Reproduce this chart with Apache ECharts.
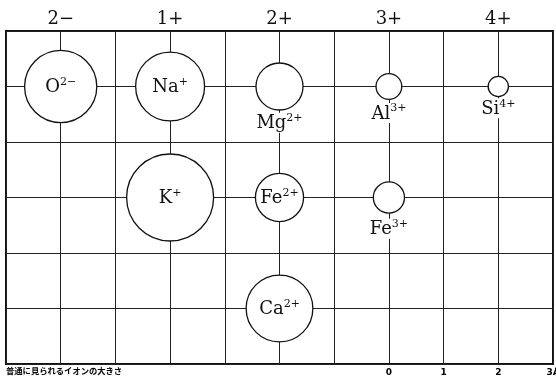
<!DOCTYPE html>
<html>
<head>
<meta charset="utf-8">
<script src="https://cdn.jsdelivr.net/npm/echarts@6/dist/echarts.min.js"></script>
<style>
  html, body { margin: 0; padding: 0; background: #fff; }
  #chart { width: 556px; height: 378px; }
</style>
</head>
<body>
<div id="chart"></div>
<script>
// 列見出し（電荷）
const chargeHeaders = ['2−', '1+', '2+', '3+', '4+'];
const headerColumns = [1, 3, 5, 7, 9];

// イオン：元素記号・電荷・列・行・直径(Å)
const ionSymbols = ['O', 'Na', 'K', 'Mg', 'Fe', 'Ca', 'Al', 'Fe', 'Si'];
const ionCharges = ['2−', '+', '+', '2+', '2+', '2+', '3+', '3+', '4+'];
const ionColumns = [1, 3, 3, 5, 5, 5, 7, 7, 9];
const ionRows = [1, 1, 3, 1, 3, 5, 1, 3, 1];
const ionDiameters = [1.32, 1.26, 1.59, 0.86, 0.88, 1.22, 0.47, 0.57, 0.37];

// 目盛り（Å）
const scaleLabels = ['0', '1', '2', '3Å'];
const scaleColumns = [7, 8, 9, 10];

const caption = '普通に見られるイオンの大きさ';

// ラベルを円の下に置くイオン
const belowLabel = { 'Mg2+': 2, 'Al3+': 3, 'Fe3+': 5, 'Si4+': 1 };

const serif = "'DejaVu Serif', 'Liberation Serif', serif";

const chart = echarts.init(document.getElementById('chart'), null, { renderer: 'canvas' });

const ionData = ionSymbols.map((s, i) => {
  const key = s + ionCharges[i];
  const below = key in belowLabel;
  return {
    value: [ionColumns[i], ionRows[i], ionDiameters[i]],
    name: key,
    label: below
      ? { position: 'bottom', distance: belowLabel[key], backgroundColor: '#fff', padding: [0, 1] }
      : { position: 'inside' }
  };
});

const option = {
  animation: false,
  backgroundColor: '#fff',
  title: {
    text: caption,
    left: 6,
    top: 367,
    padding: 0,
    textStyle: {
      fontSize: 8.3,
      fontWeight: 'bold',
      color: '#000',
      fontFamily: "'Noto Sans CJK JP', sans-serif"
    }
  },
  grid: {
    left: 6,
    right: 3,
    top: 31,
    bottom: 14,
    outerBoundsMode: 'none',
    containLabel: false,
    show: true,
    borderWidth: 2,
    borderColor: '#111',
    backgroundColor: '#fff'
  },
  xAxis: [
    {
      type: 'value',
      min: 0,
      max: 10,
      interval: 1,
      axisLine: { show: false },
      axisTick: { show: false },
      splitLine: { show: true, lineStyle: { color: '#222', width: 1 } },
      axisLabel: {
        margin: 4,
        fontSize: 9,
        fontWeight: 'bold',
        color: '#000',
        fontFamily: "'DejaVu Sans', sans-serif",
        formatter: v => {
          const i = scaleColumns.indexOf(v);
          return i >= 0 ? scaleLabels[i] : '';
        }
      }
    },
    {
      type: 'value',
      position: 'top',
      min: 0,
      max: 10,
      interval: 1,
      axisLine: { show: false },
      axisTick: { show: false },
      splitLine: { show: false },
      axisLabel: {
        margin: 3,
        fontSize: 18,
        color: '#111',
        fontFamily: serif,
        formatter: v => {
          const i = headerColumns.indexOf(v);
          return i >= 0 ? chargeHeaders[i] : '';
        }
      }
    }
  ],
  yAxis: {
    type: 'value',
    min: 0,
    max: 6,
    interval: 1,
    inverse: true,
    axisLine: { show: false },
    axisTick: { show: false },
    axisLabel: { show: false },
    splitLine: { show: true, lineStyle: { color: '#222', width: 1 } }
  },
  series: [
    {
      type: 'scatter',
      xAxisIndex: 0,
      data: ionData,
      symbol: 'circle',
      symbolSize: 10,
      itemStyle: { color: '#fff', borderColor: '#111', borderWidth: 1.3, opacity: 1 },
      emphasis: { disabled: true },
      label: {
        show: true,
        color: '#111',
        formatter: p => {
          const i = p.dataIndex;
          return '{m|' + ionSymbols[i] + '}{s|' + ionCharges[i] + '}';
        },
        rich: {
          m: { fontSize: 18, lineHeight: 20, fontFamily: serif, color: '#111', verticalAlign: 'bottom' },
          s: { fontSize: 11, lineHeight: 12, fontFamily: serif, color: '#111', verticalAlign: 'top' }
        }
      }
    }
  ]
};

chart.setOption(option);

// 1Å = 1 グリッド列の幅
const unit = chart.convertToPixel({ xAxisIndex: 0 }, 1) - chart.convertToPixel({ xAxisIndex: 0 }, 0);
chart.setOption({
  series: [{ symbolSize: val => val[2] * unit }]
});
</script>
</body>
</html>
